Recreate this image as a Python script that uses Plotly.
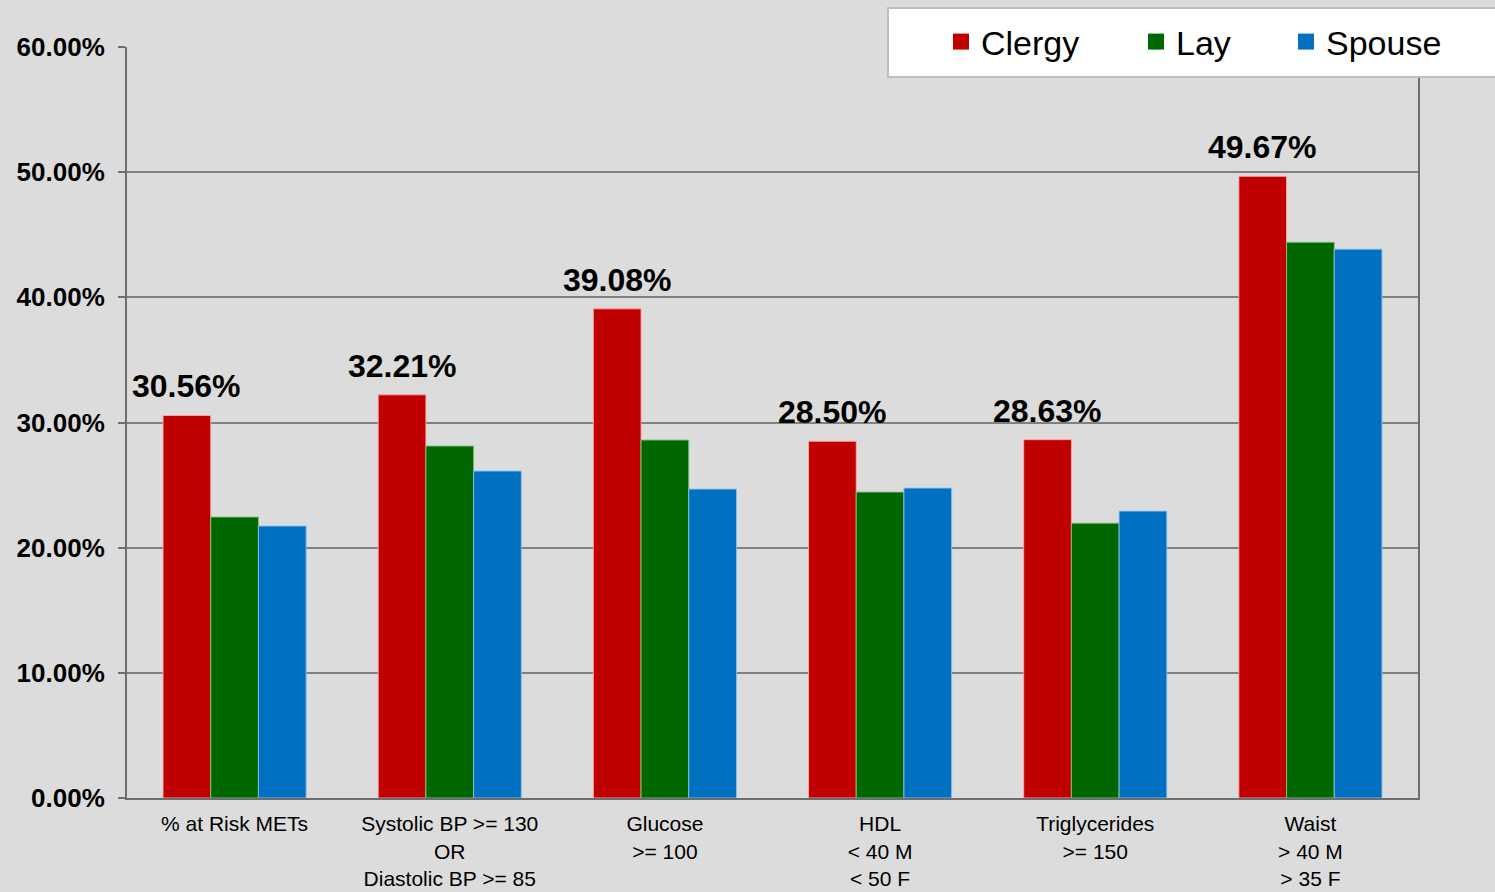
import plotly.graph_objects as go

categories = [
    "% at Risk METs",
    "Systolic BP >= 130<br>OR<br>Diastolic BP >= 85",
    "Glucose<br>>= 100",
    "HDL<br>< 40 M<br>< 50 F",
    "Triglycerides<br>>= 150",
    "Waist<br>> 40 M<br>> 35 F",
]
clergy = [30.56, 32.21, 39.08, 28.50, 28.63, 49.67]
lay = [22.45, 28.12, 28.60, 24.44, 21.96, 44.40]
spouse = [21.73, 26.12, 24.68, 24.76, 22.92, 43.85]
y_ticks = [0, 10, 20, 30, 40, 50, 60]
y_tick_text = [f"{v:.2f}%" for v in y_ticks]

BG = "rgb(220,220,220)"
AXIS = "rgb(110,110,110)"
FONT = "Arial, Liberation Sans"

# plot area in pixels, used to place legend pieces in paper coordinates
W, H = 1495, 892
L, R, T, B = 127, 77, 47, 94
PW, PH = W - L - R, H - T - B


def px_x(p):
    return (p - L) / PW


def px_y(p):
    return 1 - (p - T) / PH


fig = go.Figure()
series = [
    ("Clergy", clergy, "#C00000", "rgba(255,170,170,0.9)", 983),
    ("Lay", lay, "#006600", "rgba(120,200,120,0.9)", 1178),
    ("Spouse", spouse, "#0070C0", "rgba(140,190,240,0.9)", 1328),
]
for i, (name, vals, color, edge, text_x) in enumerate(series):
    leg = "legend" if i == 0 else f"legend{i + 1}"
    fig.add_trace(go.Bar(
        name=name, x=categories, y=vals, showlegend=False,
        marker=dict(color=color, line=dict(color=edge, width=1)),
    ))
    # legend key with a larger square swatch
    fig.add_trace(go.Scatter(
        name=name, x=[None], y=[None], mode="markers", legend=leg,
        marker=dict(symbol="square", size=18, color=color),
    ))
    fig.update_layout({leg: dict(
        x=px_x(text_x - 42), xanchor="left", y=px_y(13), yanchor="top",
        bgcolor="rgba(0,0,0,0)", borderwidth=0, itemsizing="trace",
        font=dict(family=FONT, size=34, color="black"),
    )})

# white legend box
fig.add_shape(
    type="rect", xref="paper", yref="paper", layer="above",
    x0=px_x(888), x1=px_x(1505), y0=px_y(77), y1=px_y(8),
    fillcolor="white", line=dict(color="rgb(190,190,190)", width=2),
)

# value labels above the Clergy bars
bar_w = PW / len(categories) * (1 - 0.335) / 3
for i, v in enumerate(clergy):
    fig.add_annotation(
        x=categories[i], y=v, xref="x", yref="y",
        text=f"<b>{v:.2f}%</b>", showarrow=False,
        xshift=-bar_w, yanchor="bottom", yshift=9,
        font=dict(family=FONT, size=32, color="black"),
    )

fig.update_layout(
    width=W, height=H,
    margin=dict(l=L, r=R, t=T, b=B, autoexpand=False),
    paper_bgcolor=BG, plot_bgcolor=BG,
    barmode="group", bargap=0.335, bargroupgap=0,
    font=dict(family=FONT, color="black"),
    showlegend=True,
    xaxis=dict(
        showline=True, linecolor=AXIS, linewidth=2,
        tickfont=dict(size=21, color="black"),
        ticks="", showgrid=False, automargin=False, ticklabelstandoff=6,
    ),
    yaxis=dict(
        range=[0, 60], tickvals=y_ticks, ticktext=y_tick_text,
        showgrid=True, gridcolor="rgb(128,128,128)", gridwidth=1.5,
        showline=True, linecolor=AXIS, linewidth=2, mirror=True,
        ticks="outside", ticklen=7, tickcolor=AXIS, tickwidth=2,
        tickfont=dict(size=26, color="black", weight="bold"),
        zeroline=False, automargin=False, ticklabelstandoff=8,
    ),
)

fig.write_html("out.html")
